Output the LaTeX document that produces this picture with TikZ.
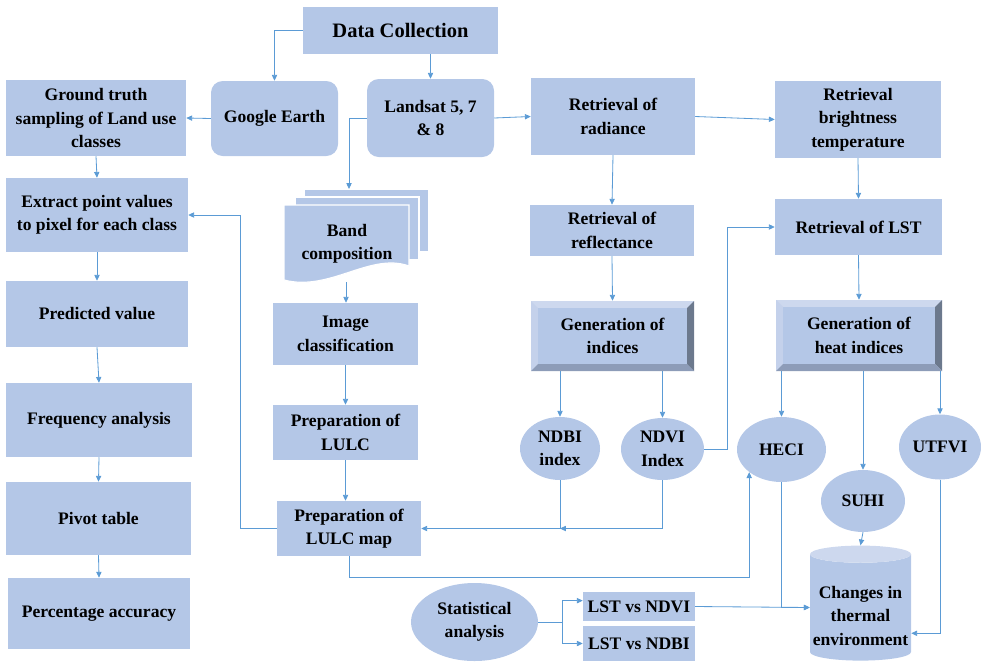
\documentclass[tikz,border=0pt]{standalone}
\usepackage{fontspec}
\setmainfont{Liberation Serif}
\usetikzlibrary{arrows.meta}
\usetikzlibrary{shapes.geometric}

\definecolor{boxblue}{RGB}{180,199,231}
\definecolor{lineblue}{RGB}{91,155,213}
\definecolor{bevtop}{RGB}{205,216,238}
\definecolor{bevleft}{RGB}{196,209,235}
\definecolor{bevright}{RGB}{108,121,141}
\definecolor{bevbot}{RGB}{141,156,184}

\begin{document}
\begin{tikzpicture}[x=0.03cm, y=-0.03cm,
    every node/.style={font=\fontsize{15}{20}\selectfont\bfseries, align=center, inner sep=0pt},
    sz/.style 2 args={minimum width=#1*0.03cm, minimum height=#2*0.03cm},
    box/.style={rectangle, fill=boxblue},
    rbox/.style={box, rounded corners=10pt},
    oval/.style={ellipse, fill=boxblue},
    bevel/.style={rectangle, fill=bevtop, path picture={
        \fill[bevleft] (path picture bounding box.south west) -- (path picture bounding box.north west)
            -- ++(6pt,-6pt) -- ([shift={(6pt,6pt)}]path picture bounding box.south west) -- cycle;
        \fill[bevright] (path picture bounding box.north east) -- (path picture bounding box.south east)
            -- ++(-6pt,6pt) -- ([shift={(-6pt,-6pt)}]path picture bounding box.north east) -- cycle;
        \fill[bevbot] (path picture bounding box.south west) -- (path picture bounding box.south east)
            -- ++(-6pt,6pt) -- ([shift={(6pt,6pt)}]path picture bounding box.south west) -- cycle;
        \fill[boxblue] ([shift={(6pt,6pt)}]path picture bounding box.south west)
            rectangle ([shift={(-6pt,-6pt)}]path picture bounding box.north east);
    }},
    ln/.style={draw=lineblue, line width=0.7pt},
    arr/.style={ln, -{Triangle[length=5pt,width=4.5pt]}}]

    \useasboundingbox (0,0) rectangle (981,661);

    % top row
    \node[box, sz={195}{47}, font=\fontsize{17.5}{20}\selectfont\bfseries] (dc) at (400.5,30.5) {Data Collection};
    \node[rbox, sz={127}{75}] (ge) at (274.5,118.5) {Google Earth};
    \node[rbox, sz={127}{78}] (ls) at (430.5,118) {Landsat 5, 7\\\& 8};
    \node[box, sz={180}{76}] (gt) at (96,118) {Ground truth\\sampling of Land use\\classes};
    \node[box, sz={164}{77}] (rad) at (613,116.5) {Retrieval of\\radiance};
    \node[box, sz={166}{77}] (bt) at (858,119.5) {Retrieval\\brightness\\temperature};

    % left column
    \node[box, sz={182}{74}] (ext) at (97,215) {Extract point values\\to pixel for each class};
    \node[box, sz={182}{66}] (pred) at (97,314) {Predicted value};
    \node[box, sz={186}{74}] (freq) at (99,420) {Frequency analysis};
    \node[box, sz={185}{73}] (piv) at (98.5,518.5) {Pivot table};
    \node[box, sz={182}{71}] (pct) at (99,613.5) {Percentage accuracy};

    % band composition pages
    \filldraw[boxblue, draw=white, line width=1pt] (304,189) rectangle (429,252);
    \filldraw[boxblue, draw=white, line width=1pt] (295,197) rectangle (419,260);
    \filldraw[boxblue, draw=white, line width=1pt] (284,205) -- (409,205) -- (409,266)
        .. controls (370,252) and (330,292) .. (284,280) -- cycle;
    \node (band) at (347,244) {Band\\composition};
    \coordinate (bandtop) at (349,189);
    \coordinate (bandbot) at (346,282);

    \node[box, sz={145}{62}] (imgc) at (345.5,334) {Image\\classification};
    \node[box, sz={145}{55}] (lulc) at (345.5,432.5) {Preparation of\\LULC};
    \node[box, sz={144}{55}] (map) at (349,528.5) {Preparation of\\LULC map};

    % retrieval and indices
    \node[box, sz={164}{51}] (refl) at (612,230.5) {Retrieval of\\reflectance};
    \node[box, sz={167}{56}] (lst) at (858.5,227) {Retrieval of LST};
    \node[bevel, sz={163}{70}] (gind) at (612.5,336) {Generation of\\indices};
    \node[bevel, sz={166}{71}] (heat) at (859,335.5) {Generation of\\heat indices};

    \node[oval, sz={80}{63}] (ndbi) at (560,448.5) {NDBI\\index};
    \node[oval, sz={83}{62}] (ndvi) at (662.5,449) {NDVI\\Index};
    \node[oval, sz={89}{65}] (heci) at (781.5,449.5) {HECI};
    \node[oval, sz={84}{62}] (suhi) at (863,501) {SUHI};
    \node[oval, sz={82}{65}] (utfvi) at (940,447) {UTFVI};

    \node[cylinder, shape border rotate=90, aspect=0.18, cylinder uses custom fill,
        cylinder body fill=boxblue, cylinder end fill=bevtop, sz={101}{105}] (cyl) at (860.5,607.5)
        {\begin{tabular}{@{}c@{}}\rule{0pt}{30pt}Changes in\\thermal\\environment\end{tabular}};

    \node[oval, sz={127}{78}] (stat) at (474.5,622) {Statistical\\analysis};
    \node[box, sz={112}{29}] (lvn) at (639,606.5) {LST vs NDVI};
    \node[box, sz={112}{35}] (lvb) at (639,643.5) {LST vs NDBI};

    % connectors
    \draw[arr] (dc.west) -| (ge.north);
    \draw[arr] (dc.south -| ls.north) -- (ls.north);
    \draw[arr] (ge.west) -- (gt.east);
    \draw[arr] (ls.east) -- (rad.west);
    \draw[arr] (ls.west) -| (bandtop);
    \draw[arr] (rad.east) -- (bt.west);
    \draw[arr] (rad.south) -- (refl.north);
    \draw[arr] (bt.south) -- (lst.north);
    \draw[arr] (refl.south) -- (gind.north);
    \draw[arr] (lst.south) -- (heat.north);

    \draw[arr] (gt.south) -- (ext.north);
    \draw[arr] (ext.south) -- (pred.north);
    \draw[arr] (pred.south) -- (freq.north);
    \draw[arr] (freq.south) -- (piv.north);
    \draw[arr] (piv.south) -- (pct.north);

    \draw[arr] (bandbot) -- (imgc.north -| bandbot);
    \draw[arr] (imgc.south) -- (lulc.north);
    \draw[arr] (lulc.south) -- (map.north -| lulc.south);
    \draw[arr] (map.west) -- ++(-36,0) |- (ext.east);
    \draw[arr] (map.south) -- ++(0,21) -| (heci.215);

    \draw[arr] (ndbi.north |- gind.south) -- (ndbi.north);
    \draw[arr] (ndvi.north |- gind.south) -- (ndvi.north);
    \draw[arr] (ndbi.south) |- (map.east);
    \draw[arr] (ndvi.south) |- (ndbi.south |- map.east);
    \draw[arr] (ndvi.east) -- ++(23,0) |- (lst.west);

    \draw[arr] (heci.north |- heat.south) -- (heci.north);
    \draw[arr] (suhi.north |- heat.south) -- (suhi.north);
    \draw[arr] (utfvi.north |- heat.south) -- (utfvi.north);
    \draw[arr] (suhi.south) -- (cyl.north);
    \draw[arr] (heci.south) |- (cyl.west);
    \draw[arr] (lvn.east) -- (cyl.west);
    \draw[arr] (utfvi.south) |- ([yshift=-22pt]cyl.east);

    \draw[ln] (stat.east) -- ++(24,0) coordinate (sj);
    \draw[arr] (sj) |- ([yshift=5pt]lvn.west);
    \draw[arr] (sj) |- (lvb.west);
\end{tikzpicture}
\end{document}
